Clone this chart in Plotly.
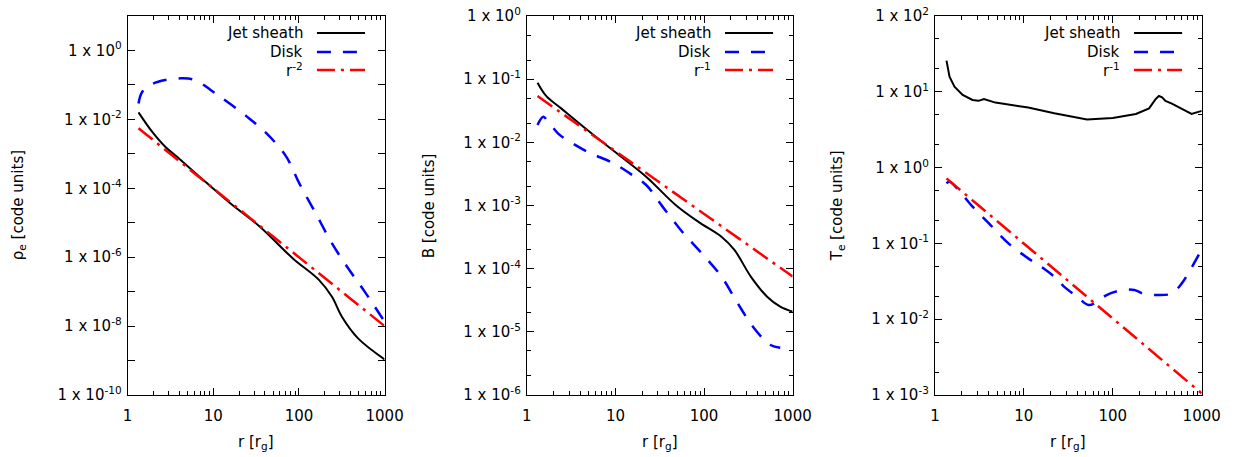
import plotly.graph_objects as go

W, H = 1257, 457

# ---------------- data ----------------
# Panel 1: electron density
rho_jet_r = [1.34, 1.93, 2.75, 3.74, 6.6, 15.9, 35.0, 85.0, 171, 243, 316, 490, 1000]
rho_jet_v = [1.6e-2, 4.4e-3, 1.6e-3, 8.3e-4, 2.4e-4, 3.6e-5, 7.7e-6, 9.2e-7, 2.2e-7, 7.1e-8, 1.9e-8, 4.4e-9, 1.08e-9]
rho_disk_r = [1.34, 1.49, 1.93, 2.75, 4.27, 6.05, 11.2, 24.7, 41.9, 71, 101, 157, 243, 377, 585, 1000]
rho_disk_v = [2.9e-2, 6.4e-2, 0.106, 0.139, 0.155, 0.139, 5.1e-2, 1.2e-2, 3.9e-3, 8.3e-4, 1.39e-4, 1.87e-5, 2.5e-6, 4.7e-7, 1.0e-7, 1.34e-8]
rho_pl_r = [1.34, 1000]
rho_pl_v = [5.5e-3, 1.0e-8]

# Panel 2: magnetic field
b_jet_r = [1.32, 1.66, 2.44, 4.82, 10.35, 22.2, 47.8, 86.5, 157, 220, 337, 515, 724, 1000]
b_jet_v = [8.8e-2, 5.4e-2, 3.45e-2, 1.57e-2, 6.7e-3, 2.86e-3, 1.02e-3, 5.5e-4, 3.2e-4, 1.98e-4, 7.5e-5, 3.6e-5, 2.5e-5, 2.08e-5]
b_disk_r = [1.32, 1.53, 1.74, 2.24, 2.65, 4.82, 9.5, 14.5, 22.2, 34, 56.6, 94.2, 157, 240, 367, 561, 724]
b_disk_v = [1.88e-2, 2.55e-2, 2.12e-2, 1.39e-2, 1.16e-2, 7.1e-3, 4.66e-3, 3.23e-3, 2.11e-3, 9.6e-4, 3.85e-4, 1.75e-4, 7.5e-5, 2.82e-5, 1.14e-5, 6.2e-6, 5.6e-6]
b_pl_r = [1.32, 1000]
b_pl_v = [5.4e-2, 7.5e-5]

# Panel 3: electron temperature
t_jet_r = [1.35, 1.46, 1.66, 2.05, 2.65, 3.1, 3.56, 4.79, 11.2, 22, 51.3, 100, 182, 256, 303, 330, 359, 391, 462, 622, 769, 1000]
t_jet_v = [25.8, 15.8, 11.7, 9.1, 7.8, 7.6, 8.0, 7.2, 6.2, 5.2, 4.3, 4.5, 5.1, 6.05, 8.0, 8.8, 8.45, 7.6, 7.0, 5.75, 5.1, 5.6]
t_disk_r = [1.35, 1.46, 2.05, 2.65, 4.05, 6.71, 11.2, 15.7, 22, 28.3, 39.8, 53.5, 66.1, 85.1, 119, 175, 216, 330, 462, 597, 706, 991]
t_disk_v = [0.62, 0.65, 0.435, 0.305, 0.184, 0.1, 0.0635, 0.0493, 0.0364, 0.0269, 0.0198, 0.0154, 0.017, 0.0208, 0.0238, 0.0243, 0.0219, 0.0208, 0.0219, 0.0297, 0.0403, 0.0818]
t_pl_r = [1.35, 1000]
t_pl_v = [0.72, 1.05e-3]

x_tick_vals = [1, 10, 100, 1000]
x_tick_text = ["1", "10", "100", "1000"]

series_names = ["Jet sheath", "Disk"]
pl_labels = ["r<sup>-2</sup>", "r<sup>-1</sup>", "r<sup>-1</sup>"]
y_titles = ["ρ<sub>e</sub> [code units]", "B [code units]", "T<sub>e</sub> [code units]"]
y_exp_ranges = [(-10, 1), (-6, 0), (-3, 2)]
y_label_step = [2, 1, 1]

# ---------------- styling ----------------
FONT = "DejaVu Sans"
FS = 15
BLACK = "#000000"
BLUE = "#0000ff"
RED = "#ff0000"
DASH_BLUE = "14px,12px"
DASH_RED = "18px,6px,3px,6px"

panel_px = [(125, 387), (532, 803), (948, 1220)]
ytitle_px = [14, 432, 849]
jet_shape = ["spline", "spline", "linear"]

fig = go.Figure()

panels = [
    (rho_jet_r, rho_jet_v, rho_disk_r, rho_disk_v, rho_pl_r, rho_pl_v),
    (b_jet_r, b_jet_v, b_disk_r, b_disk_v, b_pl_r, b_pl_v),
    (t_jet_r, t_jet_v, t_disk_r, t_disk_v, t_pl_r, t_pl_v),
]

minor_x = [m * 10 ** e for e in range(0, 3) for m in range(2, 10)]

annotations = []
shapes = []

for i, (jr, jv, dr, dv, pr, pv) in enumerate(panels):
    sfx = "" if i == 0 else str(i + 1)
    xa, ya = "x" + sfx, "y" + sfx
    fig.add_trace(go.Scatter(x=jr, y=jv, mode="lines", xaxis=xa, yaxis=ya, line_shape=jet_shape[i],
                             line=dict(color=BLACK, width=2), showlegend=False))
    fig.add_trace(go.Scatter(x=dr, y=dv, mode="lines", xaxis=xa, yaxis=ya, line_shape="spline",
                             line=dict(color=BLUE, width=2.5, dash=DASH_BLUE), showlegend=False))
    fig.add_trace(go.Scatter(x=pr, y=pv, mode="lines", xaxis=xa, yaxis=ya,
                             line=dict(color=RED, width=2.5, dash=DASH_RED), showlegend=False))

    x0p, x1p = panel_px[i]
    dom = [x0p / W, x1p / W]
    lo, hi = y_exp_ranges[i]
    step = y_label_step[i]
    yvals = [10.0 ** e for e in range(hi, lo - 1, -1) if (e - lo) % step == 0]
    ytext = ["1 x 10<sup>%d</sup>" % e for e in range(hi, lo - 1, -1) if (e - lo) % step == 0]
    if step == 1:
        minor_y = [m * 10.0 ** e for e in range(lo, hi) for m in (2, 5)]
        minor_len = 4
    else:
        minor_y = [10.0 ** e for e in range(hi, lo - 1, -1) if (e - lo) % step != 0]
        minor_len = 7

    axis_common = dict(showline=True, linecolor=BLACK, linewidth=1, mirror="ticks",
                       ticks="inside", ticklen=7, tickwidth=1, tickcolor=BLACK,
                       showgrid=False, zeroline=False,
                       tickfont=dict(family=FONT, size=FS, color=BLACK))
    fig.update_layout(**{
        "xaxis" + sfx: dict(type="log", range=[0, 3], domain=dom, anchor=ya,
                            tickmode="array", tickvals=x_tick_vals, ticktext=x_tick_text,
                            minor=dict(tickmode="array", tickvals=minor_x, ticks="inside",
                                       ticklen=4, tickcolor=BLACK, showgrid=False),
                            ticklabelstandoff=7,
                            **axis_common),
        "yaxis" + sfx: dict(type="log", range=[lo, hi], domain=[0, 1], anchor=xa,
                            tickmode="array", tickvals=yvals, ticktext=ytext,
                            minor=dict(tickmode="array", tickvals=minor_y, ticks="inside",
                                       ticklen=minor_len, tickcolor=BLACK, showgrid=False),
                            ticklabelstandoff=2,
                            **axis_common),
    })

    # axis titles
    annotations.append(dict(text="r [r<sub>g</sub>]", xref="paper", yref="paper",
                            x=(dom[0] + dom[1]) / 2, y=0, yshift=-47, xanchor="center",
                            yanchor="middle", showarrow=False,
                            font=dict(family=FONT, size=FS, color=BLACK)))
    annotations.append(dict(text=y_titles[i], xref="paper", yref="paper",
                            x=ytitle_px[i] / W, y=0.5, xanchor="center", yanchor="middle",
                            textangle=-90, showarrow=False,
                            font=dict(family=FONT, size=FS, color=BLACK)))

    # in-plot key (gnuplot style: text then sample line)
    wpx = x1p - x0p
    labels = [series_names[0], series_names[1], pl_labels[i]]
    styles = [(BLACK, 2, "solid"), (BLUE, 2.5, DASH_BLUE), (RED, 2.5, DASH_RED)]
    rows_px = [17, 36, 54]
    for lab, (col, lw, dsh), rp in zip(labels, styles, rows_px):
        yd = 1 - rp / 379.0
        annotations.append(dict(text=lab, xref=xa + " domain", yref=ya + " domain",
                                x=1 - 81.0 / wpx, y=yd, xanchor="right", yanchor="middle",
                                showarrow=False,
                                font=dict(family=FONT, size=FS, color=BLACK)))
        shapes.append(dict(type="line", xref=xa + " domain", yref=ya + " domain",
                           x0=1 - 69.0 / wpx, x1=1 - 20.0 / wpx, y0=yd, y1=yd,
                           line=dict(color=col, width=lw, dash=dsh)))

fig.update_layout(width=W, height=H, margin=dict(l=0, r=0, t=16, b=62),
                  paper_bgcolor="white", plot_bgcolor="white",
                  annotations=annotations, shapes=shapes, showlegend=False,
                  font=dict(family=FONT, size=FS, color=BLACK))

fig.write_html("out.html")
